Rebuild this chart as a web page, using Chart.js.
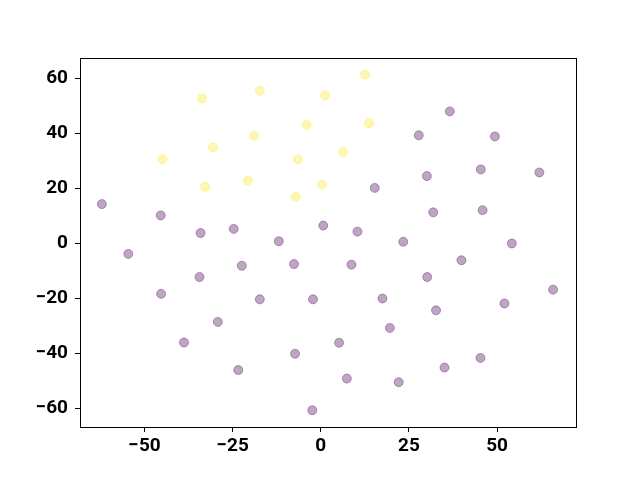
<!DOCTYPE html>
<html>
<head>
<meta charset="utf-8">
<script src="https://cdn.jsdelivr.net/npm/chart.js@4"></script>
<style>
  html, body { margin: 0; padding: 0; background: #fff; }
  #wrap { width: 640px; height: 480px; }
</style>
</head>
<body>
<div id="wrap"><canvas id="scatterChart" width="640" height="480"></canvas></div>
<script>
// points (class 0 = purple, class 1 = yellow)
const purpleX = [-62.1, -45.4, -34.1, -24.7, -11.9, 0.7, 36.6, 27.8, 49.4, 45.4, 62.0, 30.1, 15.3, 31.9, 45.9,
    10.4, 23.4, 54.2, -54.6, -34.4, -22.4, -7.6, -45.3, -17.3, -2.2, -29.2, -38.8, -7.3, -23.4, -2.4,
    8.7, 39.9, 30.2, 65.9, 17.5, 52.1, 32.7, 19.6, 5.2, 45.3, 35.1, 7.4, 22.1];
const purpleY = [14.2, 10.1, 3.7, 5.2, 0.7, 6.4, 47.9, 39.2, 38.8, 26.8, 25.7, 24.4, 20.1, 11.2, 12.0,
    4.2, 0.5, -0.1, -3.9, -12.3, -8.2, -7.6, -18.4, -20.4, -20.4, -28.6, -36.1, -40.2, -46.1, -60.7,
    -7.8, -6.2, -12.3, -16.9, -20.1, -21.9, -24.4, -30.8, -36.2, -41.7, -45.2, -49.2, -50.5];
const yellowX = [-33.7, -17.3, 1.2, -4.0, -18.9, -30.6, -44.9, -6.5, -32.8, -20.7, -7.1, 0.4, 12.6, 13.7, 6.3];
const yellowY = [52.6, 55.4, 53.8, 43.0, 39.0, 34.8, 30.5, 30.5, 20.5, 22.8, 16.8, 21.3, 61.3, 43.6, 33.1];

const xTicks = [-50, -25, 0, 25, 50];
const yTicks = [-60, -40, -20, 0, 20, 40, 60];

function toPoints(xs, ys) {
    return xs.map((x, i) => ({ x: x, y: ys[i] }));
}

function minusSign(value) {
    return String(value).replace('-', '\u2212');
}

// draw the box round the plot area like matplotlib does
const frameBox = {
    id: 'frameBox',
    afterDraw(chart) {
        const a = chart.chartArea;
        const ctx = chart.ctx;
        ctx.save();
        ctx.strokeStyle = '#000';
        ctx.lineWidth = 1;
        ctx.strokeRect(a.left + 0.5, a.top + 0.5, a.right - a.left, a.bottom - a.top);
        ctx.restore();
    }
};

const tickFont = { family: 'Roboto', size: 19, weight: 'bold' };

document.addEventListener('DOMContentLoaded', function() {
    const ctx = document.getElementById('scatterChart').getContext('2d');
    new Chart(ctx, {
        type: 'scatter',
        data: {
            datasets: [
                {
                    data: toPoints(purpleX, purpleY),
                    backgroundColor: 'rgba(68, 1, 84, 0.35)',
                    borderColor: 'rgba(68, 1, 84, 0.35)',
                    borderWidth: 1,
                    pointRadius: 4.5
                },
                {
                    data: toPoints(yellowX, yellowY),
                    backgroundColor: 'rgba(253, 231, 37, 0.35)',
                    borderColor: 'rgba(253, 231, 37, 0.35)',
                    borderWidth: 1,
                    pointRadius: 4.5
                }
            ]
        },
        options: {
            responsive: false,
            animation: false,
            layout: { padding: { top: 58, right: 64, left: 0, bottom: 0 } },
            plugins: {
                legend: { display: false },
                tooltip: { enabled: false }
            },
            scales: {
                x: {
                    type: 'linear',
                    min: -68.3,
                    max: 72.4,
                    afterBuildTicks: scale => { scale.ticks = xTicks.map(v => ({ value: v })); },
                    afterFit: scale => { scale.height = 53; },
                    grid: { drawOnChartArea: false, drawTicks: true, tickLength: 5, color: '#000' },
                    border: { display: true, color: '#000' },
                    ticks: { color: '#000', font: tickFont, padding: 3, callback: minusSign, maxRotation: 0 }
                },
                y: {
                    type: 'linear',
                    min: -66.8,
                    max: 67.3,
                    afterBuildTicks: scale => { scale.ticks = yTicks.map(v => ({ value: v })); },
                    afterFit: scale => { scale.width = 80; },
                    grid: { drawOnChartArea: false, drawTicks: true, tickLength: 5, color: '#000' },
                    border: { display: true, color: '#000' },
                    ticks: { color: '#000', font: tickFont, padding: 7, callback: minusSign }
                }
            }
        },
        plugins: [frameBox]
    });
});
</script>
</body>
</html>
